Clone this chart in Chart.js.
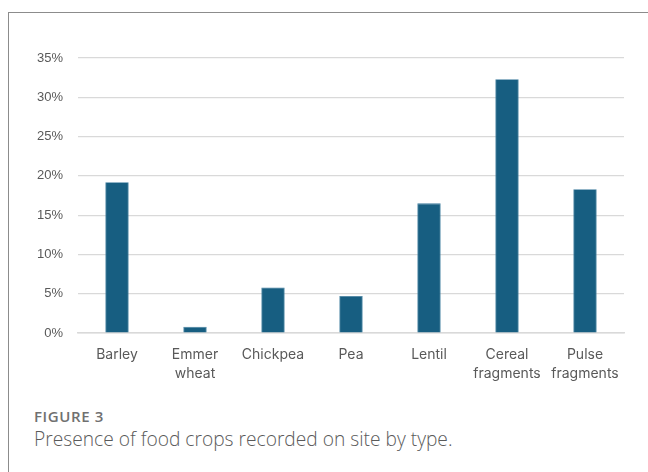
<!DOCTYPE html>
<html>
<head>
<meta charset="utf-8">
<script src="https://cdn.jsdelivr.net/npm/chart.js@4"></script>
<style>
  html, body { margin: 0; padding: 0; background: #fff; width: 648px; height: 472px; overflow: hidden; }
  #frame { position: absolute; left: 8px; top: 12px; width: 700px; height: 520px; border: 1.5px solid #8c8c8c; box-sizing: border-box; }
  #wrap { position: absolute; left: 0; top: 0; width: 648px; height: 400px; }
  #fig { position: absolute; left: 34px; top: 406px; font-family: "Open Sans", sans-serif; font-size: 15px; font-weight: 600; color: #707070; letter-spacing: 0.6px; }
  #cap { position: absolute; left: 34px; top: 425px; font-family: "Open Sans", sans-serif; font-size: 19.2px; font-weight: 300; color: #5a5a5a; }
</style>
</head>
<body>
<div id="frame"></div>
<div id="wrap"><canvas id="c" width="648" height="400"></canvas></div>
<div id="fig">FIGURE 3</div>
<div id="cap">Presence of food crops recorded on site by type.</div>
<script>
const categories = [
  "Barley",
  ["Emmer", "wheat"],
  "Chickpea",
  "Pea",
  "Lentil",
  ["Cereal", "fragments"],
  ["Pulse", "fragments"]
];
const presence = [19.2, 0.8, 5.8, 4.7, 16.5, 32.3, 18.3];
const yTicks = [0, 5, 10, 15, 20, 25, 30, 35];

new Chart(document.getElementById('c'), {
  type: 'bar',
  data: {
    labels: categories,
    datasets: [{
      data: presence,
      backgroundColor: '#175e81',
      borderColor: '#3f7d9e',
      borderWidth: 0.8,
      barPercentage: 0.3,
      categoryPercentage: 1.0
    }]
  },
  options: {
    responsive: false,
    animation: false,
    devicePixelRatio: 1,
    layout: { padding: { left: 0, right: 24, top: 58, bottom: 0 } },
    plugins: { legend: { display: false }, tooltip: { enabled: false } },
    scales: {
      x: {
        grid: { display: false, drawTicks: false },
        border: { display: true, color: '#d9d9d9', width: 1.5 },
        ticks: {
          color: '#595959',
          font: { family: 'Inter', size: 14, lineHeight: 1.36 },
          padding: 12,
          maxRotation: 0,
          autoSkip: false
        },
        afterFit: (s) => { s.height = 67; }
      },
      y: {
        min: 0,
        max: 35,
        afterBuildTicks: (s) => { s.ticks = yTicks.map(v => ({ value: v })); },
        grid: { color: '#d9d9d9', lineWidth: 1.2, drawTicks: false },
        border: { display: false },
        ticks: {
          color: '#595959',
          font: { family: '"Liberation Sans", Arial', size: 13 },
          padding: 15,
          callback: (v) => v + '%'
        },
        afterFit: (s) => { s.width = 78; }
      }
    }
  }
});
</script>
</body>
</html>
